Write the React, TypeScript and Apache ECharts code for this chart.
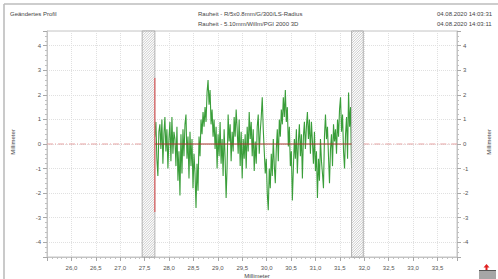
import React, { useEffect, useRef } from "react";
import * as echarts from "echarts";

// Axis ranges (millimetre along the trace, height on the vertical)
const X_MIN = 25.5;
const X_MAX = 33.9;
const Y_MIN = -4.6;
const Y_MAX = 4.6;

// Excluded (hatched) zones, in mm
const HATCH_ZONES: [number, number][] = [
  [27.45, 27.71],
  [31.74, 31.98],
];

// Evaluated profile section
const PROFILE_START = 27.71;
const PROFILE_END = 31.74;
const CURSOR_X = 27.71;
const CURSOR_TOP = 2.69;
const CURSOR_BOTTOM = -2.77;

// Header texts
const TITLE_LEFT = "Geändertes Profil";
const TITLE_CENTER = ["Rauheit - R/5x0.8mm/G/300/LS-Radius", "Rauheit - 5.10mm/Willm/PGI 2000 3D"];
const TITLE_RIGHT = ["04.08.2020 14:03:31", "04.08.2020 14:03:11"];
const AXIS_NAME = "Millimeter";

const PROFILE_VALUES: number[] = [
  0.3, 0.9, -0.6, -1.3, 0.5, 0.8, -0.2, 1.0, -0.8, 0.4,
  1.1, -0.3, 0.6, -1.0, 0.2, 0.9, -0.7, 1.1, -0.4, 0.5,
  0.2, -0.9, 0.7, -1.5, -0.3, -2.1, 0.4, -1.2, 0.6, -0.5,
  0.8, 1.2, -0.6, 0.3, -1.4, 0.5, -0.9, 0.2, -1.8, -0.4,
  -1.2, -2.6, -0.8, -1.9, 0.3, -0.5, 1.0, 0.4, 1.3, 0.7,
  1.5, 0.9, 2.1, 2.6, 1.6, 2.2, 0.8, 1.4, 0.3, 1.0,
  -0.2, 0.7, -1.0, 0.4, -0.5, 0.9, -0.8, 0.2, -1.3, 0.6,
  -0.6, -2.2, -0.9, 1.2, 0.1, 0.8, -0.7, 0.5, -0.3, 1.1,
  0.3, 1.4, 0.6, -0.4, 1.0, -0.9, 0.5, -1.4, 0.2, -0.6,
  0.4, -1.0, 0.7, -0.3, 1.3, 0.2, 0.9, -0.5, 0.6, -1.1,
  0.1, -0.8, 0.7, 1.2, -0.4, 0.5, 1.1, 1.9, 0.6, -0.3,
  -1.2, -0.6, -2.0, -2.7, -1.0, -1.8, -0.4, -1.3, 0.2, -0.9,
  -1.6, -0.2, 0.6, -0.7, 1.0, 0.3, 1.4, 0.8, 1.9, 1.1,
  2.2, 0.9, 1.5, -0.1, 0.7, -0.9, -0.3, -2.3, -1.0, 0.2,
  -0.6, 0.6, -1.2, 0.1, 0.8, -0.5, 0.4, -1.4, 0.3, 0.9,
  -0.2, 0.7, 1.3, 0.2, 1.0, -0.4, 0.9, 0.1, -0.8, 0.5,
  -1.1, -0.3, -2.2, -0.6, -1.5, 0.2, -0.7, -1.2, -1.8, 0.3,
  1.2, 0.2, 0.7, -0.5, -1.6, -0.2, 0.4, -0.9, 0.8, 0.1,
  0.6, -0.4, 1.0, 0.3, 1.4, 1.9, 0.5, 1.2, -0.3, -1.0,
  0.4, 1.1, -0.6, 2.1, 0.7, 1.5, -1.0,
];

const FONT = "'Liberation Sans', Arial, sans-serif";

export default function App() {
  const ref = useRef<HTMLDivElement>(null);

  useEffect(() => {
    if (!ref.current) return;
    const chart = echarts.init(ref.current, undefined, { renderer: "svg" });
    const n = PROFILE_VALUES.length;
    const step = (PROFILE_END - PROFILE_START) / (n - 1);
    const profile = PROFILE_VALUES.map((v, i) => [PROFILE_START + i * step, v]);

    const yAxisBase = {
      type: "value",
      min: Y_MIN,
      max: Y_MAX,
      splitNumber: 9,
      axisLine: { show: true, lineStyle: { color: "#c4c4c4", width: 1 } },
      axisTick: { show: true, inside: false, length: 4, lineStyle: { color: "#a8a8a8" } },
      minorTick: { show: true, splitNumber: 5, length: 2, lineStyle: { color: "#c0c0c0" } },
      axisLabel: {
        fontSize: 6,
        color: "#555",
        fontFamily: FONT,
        margin: 6,
        showMinLabel: false,
        showMaxLabel: false,
        formatter: (v: number) => (Math.abs(v - Math.round(v)) < 1e-6 ? String(Math.round(v)) : ""),
      },
    };

    chart.setOption({
      animation: false,
      backgroundColor: "#ffffff",
      grid: {
        left: 47,
        right: 41,
        top: 31,
        bottom: 22,
        show: true,
        borderColor: "#c4c4c4",
        borderWidth: 1,
        backgroundColor: "transparent",
      },
      xAxis: {
        type: "value",
        min: X_MIN,
        max: X_MAX,
        interval: 0.5,
        axisLine: { show: true, onZero: false, lineStyle: { color: "#c4c4c4", width: 1 } },
        axisTick: { show: true, inside: false, length: 4, lineStyle: { color: "#a8a8a8" } },
        minorTick: { show: true, splitNumber: 5, length: 2, lineStyle: { color: "#c0c0c0" } },
        axisLabel: {
          fontSize: 6,
          color: "#555",
          fontFamily: FONT,
          margin: 8,
          showMinLabel: false,
          showMaxLabel: false,
          formatter: (v: number) => v.toFixed(1).replace(".", ","),
        },
        splitLine: { show: true, lineStyle: { color: "#e0e0e0", type: "dotted", width: 1 } },
      },
      yAxis: [
        {
          ...yAxisBase,
          position: "left",
          splitLine: { show: true, lineStyle: { color: "#e0e0e0", type: "dotted", width: 1 } },
        },
        {
          ...yAxisBase,
          position: "right",
          splitLine: { show: false },
        },
      ],
      series: [
        {
          type: "line",
          name: "zero-left",
          data: [
            [X_MIN, 0],
            [HATCH_ZONES[0][0], 0],
          ],
          symbol: "none",
          silent: true,
          lineStyle: { color: "#e6a3a3", width: 1, type: [6, 2, 1, 2] },
          z: 2,
        },
        {
          type: "line",
          name: "zero-right",
          data: [
            [HATCH_ZONES[1][1], 0],
            [X_MAX, 0],
          ],
          symbol: "none",
          silent: true,
          lineStyle: { color: "#e6a3a3", width: 1, type: [6, 2, 1, 2] },
          z: 2,
        },
        {
          type: "line",
          name: "profile",
          data: profile,
          symbol: "none",
          silent: true,
          lineStyle: { color: "#3a9e3a", width: 1.1 },
          z: 3,
        },
        {
          type: "line",
          name: "mean",
          data: [
            [PROFILE_START, 0],
            [PROFILE_END, 0],
          ],
          symbol: "none",
          silent: true,
          lineStyle: { color: "#a8342a", width: 1 },
          z: 4,
        },
        {
          type: "line",
          name: "cursor",
          data: [
            [CURSOR_X, CURSOR_TOP],
            [CURSOR_X, CURSOR_BOTTOM],
          ],
          symbol: "none",
          silent: true,
          lineStyle: { color: "#e04a4a", width: 1 },
          z: 5,
        },
        {
          type: "custom",
          name: "hatch",
          silent: true,
          data: HATCH_ZONES,
          encode: { x: [0, 1] },
          z: 4,
          renderItem: (params: any, api: any) => {
            const x0 = api.coord([api.value(0), 0])[0];
            const x1 = api.coord([api.value(1), 0])[0];
            const cs = params.coordSys;
            const top = cs.y;
            const h = cs.height;
            const bottom = top + h;
            const w = x1 - x0;
            const children: any[] = [
              {
                type: "rect",
                shape: { x: x0, y: top, width: w, height: h },
                style: { fill: "#ffffff", stroke: "#a0a0a0", lineWidth: 0.8 },
              },
            ];
            for (let k = -h; k < w; k += 2.5) {
              const t0 = Math.max(0, -k);
              const t1 = Math.min(h, w - k);
              if (t1 <= t0) continue;
              children.push({
                type: "line",
                shape: { x1: x0 + k + t0, y1: bottom - t0, x2: x0 + k + t1, y2: bottom - t1 },
                style: { stroke: "#a6a6a6", lineWidth: 0.6 },
              });
            }
            return { type: "group", children };
          },
        },
      ],
      graphic: [
        { type: "line", shape: { x1: 4, y1: 4, x2: 498, y2: 4 }, style: { stroke: "#bdbdbd", lineWidth: 1.6 }, silent: true },
        { type: "line", shape: { x1: 4, y1: 4, x2: 4, y2: 279 }, style: { stroke: "#bdbdbd", lineWidth: 1.6 }, silent: true },
        {
          type: "text",
          x: 10,
          y: 14,
          style: { text: TITLE_LEFT, fontSize: 6, fill: "#444", fontFamily: FONT, textAlign: "left", textVerticalAlign: "middle" },
        },
        {
          type: "text",
          x: 198,
          y: 14,
          style: { text: TITLE_CENTER[0], fontSize: 6, fill: "#444", fontFamily: FONT, textAlign: "left", textVerticalAlign: "middle" },
        },
        {
          type: "text",
          x: 198,
          y: 24,
          style: { text: TITLE_CENTER[1], fontSize: 6, fill: "#444", fontFamily: FONT, textAlign: "left", textVerticalAlign: "middle" },
        },
        {
          type: "text",
          x: 437,
          y: 14,
          style: { text: TITLE_RIGHT[0], fontSize: 6, fill: "#444", fontFamily: FONT, textAlign: "left", textVerticalAlign: "middle" },
        },
        {
          type: "text",
          x: 437,
          y: 24,
          style: { text: TITLE_RIGHT[1], fontSize: 6, fill: "#444", fontFamily: FONT, textAlign: "left", textVerticalAlign: "middle" },
        },
        {
          type: "text",
          x: 13,
          y: 142,
          rotation: Math.PI / 2,
          style: { text: AXIS_NAME, fontSize: 6, fill: "#444", fontFamily: FONT, textAlign: "center", textVerticalAlign: "middle" },
        },
        {
          type: "text",
          x: 489,
          y: 142,
          rotation: Math.PI / 2,
          style: { text: AXIS_NAME, fontSize: 6, fill: "#444", fontFamily: FONT, textAlign: "center", textVerticalAlign: "middle" },
        },
        {
          type: "text",
          x: 257,
          y: 272.5,
          style: { text: AXIS_NAME, fontSize: 6, fill: "#444", fontFamily: FONT, textAlign: "center", textVerticalAlign: "top" },
        },
        { type: "rect", shape: { x: 479, y: 271, width: 17, height: 8 }, style: { fill: "#a6a6a6" }, silent: true },
        { type: "rect", shape: { x: 479, y: 270, width: 17, height: 1 }, style: { fill: "#555" }, silent: true },
        { type: "polygon", shape: { points: [[486.5, 264], [483.5, 267.5], [489.5, 267.5]] }, style: { fill: "#e02020" }, silent: true },
        { type: "rect", shape: { x: 485.5, y: 267, width: 2, height: 3 }, style: { fill: "#e02020" }, silent: true },
      ],
    });

    return () => chart.dispose();
  }, []);

  return (
    <div
      ref={ref}
      style={{ position: "fixed", left: 0, top: 0, width: 498, height: 279, background: "#fff" }}
    />
  );
}
